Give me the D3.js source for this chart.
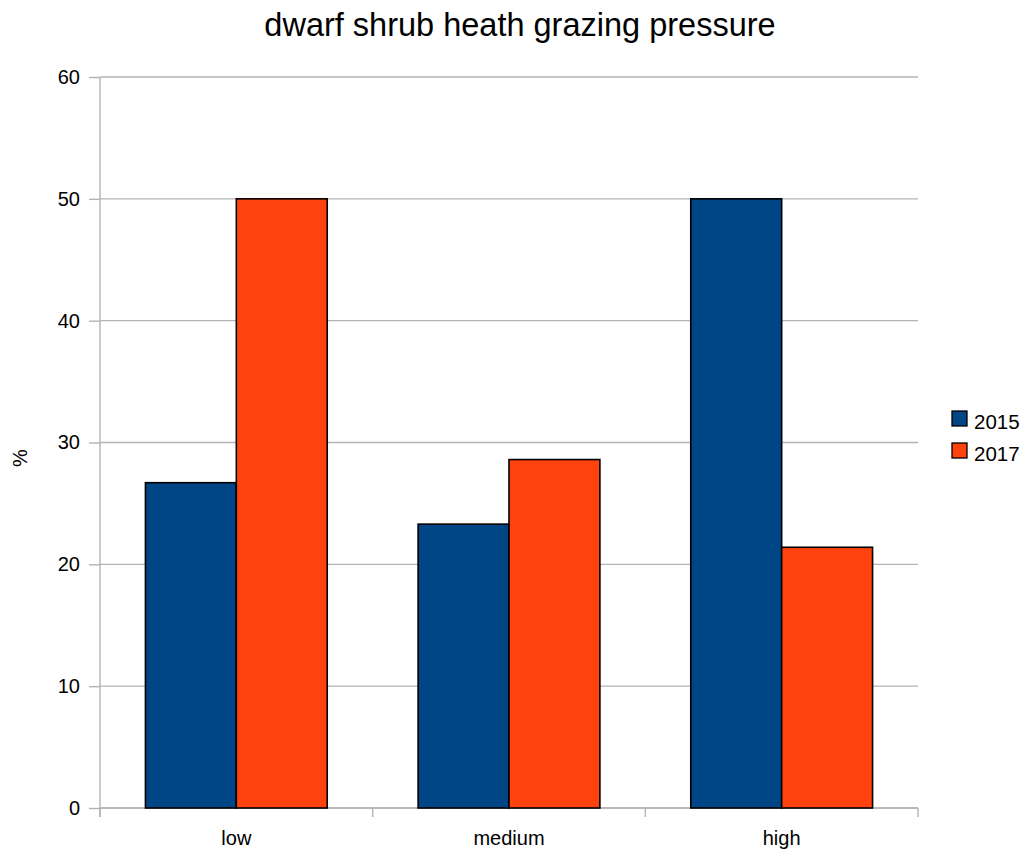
<!DOCTYPE html>
<html>
<head>
<meta charset="utf-8">
<script src="https://cdn.jsdelivr.net/npm/d3@7"></script>
<style>
  body { margin: 0; background: #fff; }
  text { font-family: "Liberation Sans", Arial, sans-serif; fill: #000; }
</style>
</head>
<body>
<svg id="chart" width="1027" height="854"></svg>
<script>
// Grazing pressure classes and share of plots (%) per survey year
const categories = ["low", "medium", "high"];
const seriesNames = ["2015", "2017"];
const values2015 = [26.7, 23.3, 50];
const values2017 = [50, 28.6, 21.4];
const yTicks = [0, 10, 20, 30, 40, 50, 60];
const colors = ["#004586", "#ff420e"];

const svg = d3.select("#chart");
const margin = { left: 100, top: 77, right: 109, bottom: 46 };
const width = 1027 - margin.left - margin.right;
const height = 854 - margin.top - margin.bottom;

const x0 = d3.scaleBand().domain(categories).range([0, width]).paddingInner(0).paddingOuter(0);
const x1 = d3.scaleBand().domain(seriesNames).range([0, x0.bandwidth()]).paddingInner(0).paddingOuter(0.5);
const y = d3.scaleLinear().domain([0, 60]).range([height, 0]);

const g = svg.append("g").attr("transform", `translate(${margin.left},${margin.top})`);

// Horizontal grid lines
g.append("g")
  .selectAll("line")
  .data(yTicks)
  .join("line")
  .attr("x1", 0).attr("x2", width)
  .attr("y1", d => y(d)).attr("y2", d => y(d))
  .attr("stroke", "#b3b3b3").attr("stroke-width", 1.4);

// Y axis
const yAxis = g.append("g")
  .call(d3.axisLeft(y).tickValues(yTicks).tickSize(11).tickPadding(9));
yAxis.select(".domain").attr("stroke", "#b3b3b3").attr("stroke-width", 1.4).attr("d", `M0,0V${height + 9}`);
yAxis.selectAll(".tick line").attr("stroke", "#b3b3b3").attr("stroke-width", 1.4);
yAxis.selectAll(".tick text").style("font-size", "20px").style("font-family", "Liberation Sans, Arial, sans-serif");

// X axis with boundary ticks between categories
const xAxisG = g.append("g").attr("transform", `translate(0,${height})`);
xAxisG.append("line").attr("x1", 0).attr("x2", width).attr("y1", 0).attr("y2", 0)
  .attr("stroke", "#b3b3b3").attr("stroke-width", 1.4);
const boundaries = categories.map(c => x0(c)).concat([width]);
xAxisG.selectAll("line.bt")
  .data(boundaries)
  .join("line")
  .attr("class", "bt")
  .attr("x1", d => d).attr("x2", d => d)
  .attr("y1", 0).attr("y2", 9)
  .attr("stroke", "#b3b3b3").attr("stroke-width", 1.4);
xAxisG.selectAll("text.cat")
  .data(categories)
  .join("text")
  .attr("class", "cat")
  .attr("x", d => x0(d) + x0.bandwidth() / 2)
  .attr("y", 37)
  .attr("text-anchor", "middle")
  .style("font-size", "20px")
  .text(d => d);

// Bars
const series = [values2015, values2017];
const groups = g.append("g")
  .selectAll("g")
  .data(categories)
  .join("g")
  .attr("transform", d => `translate(${x0(d)},0)`);

groups.selectAll("rect")
  .data((c, i) => seriesNames.map((s, j) => ({ s, v: series[j][i], j })))
  .join("rect")
  .attr("x", d => x1(d.s))
  .attr("width", x1.bandwidth())
  .attr("y", d => y(d.v))
  .attr("height", d => y(0) - y(d.v))
  .attr("fill", d => colors[d.j])
  .attr("stroke", "#000")
  .attr("stroke-width", 1.6);

// Title
svg.append("text")
  .attr("x", 520).attr("y", 36)
  .attr("text-anchor", "middle")
  .style("font-size", "32.5px")
  .text("dwarf shrub heath grazing pressure");

// Y axis title
svg.append("text")
  .attr("transform", "translate(27,458) rotate(-90)")
  .attr("text-anchor", "middle")
  .style("font-size", "20px")
  .text("%");

// Legend
const legend = svg.append("g").attr("transform", "translate(952,411)");
const items = legend.selectAll("g")
  .data(seriesNames)
  .join("g")
  .attr("transform", (d, i) => `translate(0,${i * 32})`);
items.append("rect")
  .attr("width", 15).attr("height", 15)
  .attr("fill", (d, i) => colors[i])
  .attr("stroke", "#000").attr("stroke-width", 1.3);
items.append("text")
  .attr("x", 22).attr("y", 18)
  .style("font-size", "20.5px")
  .text(d => d);
</script>
</body>
</html>
